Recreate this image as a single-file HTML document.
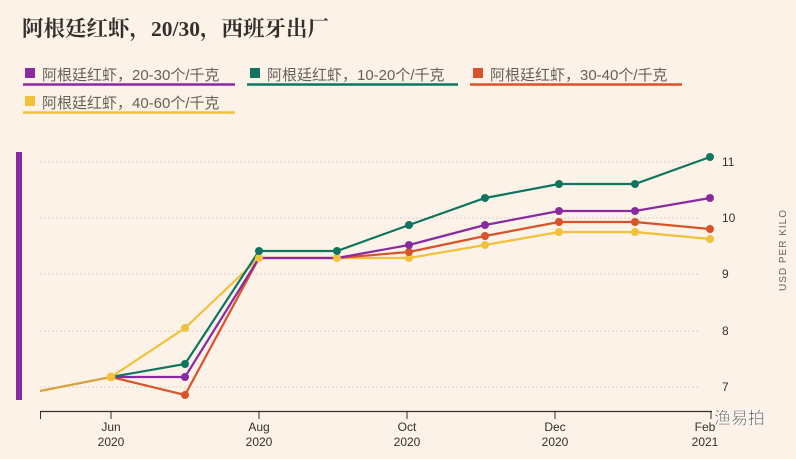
<!DOCTYPE html><html><head><meta charset="utf-8"><style>
body{margin:0;background:#fcf2e8;width:796px;height:454px;overflow:hidden;font-family:"Liberation Sans","Noto Sans CJK SC",sans-serif}
</style></head><body>
<svg width="796" height="454" xmlns="http://www.w3.org/2000/svg">
<rect width="796" height="454" fill="#fcf2e8"/>
<text x="22" y="36" font-family="Liberation Serif,Noto Serif CJK SC,serif" font-weight="bold" font-size="21.5" fill="#33302e">阿根廷红虾，20/30，西班牙出厂</text>
<g font-size="15" fill="#66605c">
<rect x="25" y="68" width="10" height="10" fill="#8a2aa0"/><text x="42" y="80">阿根廷红虾，20-30个/千克</text><line x1="23" y1="84.5" x2="235" y2="84.5" stroke="#8a2aa0" stroke-width="2.5"/>
<rect x="250" y="68" width="10" height="10" fill="#0d7560"/><text x="267" y="80">阿根廷红虾，10-20个/千克</text><line x1="247" y1="84.5" x2="458" y2="84.5" stroke="#0d7560" stroke-width="2.5"/>
<rect x="473" y="68" width="10" height="10" fill="#d9532a"/><text x="490" y="80">阿根廷红虾，30-40个/千克</text><line x1="470" y1="84.5" x2="682" y2="84.5" stroke="#d9532a" stroke-width="2.5"/>
<rect x="25" y="96" width="10" height="10" fill="#f2c13a"/><text x="42" y="108">阿根廷红虾，40-60个/千克</text><line x1="23" y1="112.5" x2="235" y2="112.5" stroke="#f2c13a" stroke-width="2.5"/>
</g>
<rect x="16" y="152" width="6" height="248" fill="#8a2aa0"/>
<g stroke="#d8d0c8" stroke-dasharray="2,2" stroke-width="1">
<line x1="40" y1="162" x2="700" y2="162"/><line x1="40" y1="218" x2="700" y2="218"/><line x1="40" y1="274" x2="700" y2="274"/><line x1="40" y1="331" x2="700" y2="331"/><line x1="40" y1="387" x2="700" y2="387"/>
</g>
<g font-size="12" fill="#33302e">
<text x="722" y="166">11</text><text x="722" y="222">10</text><text x="722" y="278">9</text><text x="722" y="335">8</text><text x="722" y="391">7</text>
<text transform="translate(786,250) rotate(-90)" text-anchor="middle" font-size="10" letter-spacing="1" fill="#66605c">USD PER KILO</text>
</g>
<line x1="40" y1="411.5" x2="712" y2="411.5" stroke="#33302e" stroke-width="1.2"/>
<g stroke="#33302e"><line x1="40.5" y1="411" x2="40.5" y2="419"/><line x1="111" y1="411" x2="111" y2="419"/><line x1="259" y1="411" x2="259" y2="419"/><line x1="407" y1="411" x2="407" y2="419"/><line x1="555" y1="411" x2="555" y2="419"/><line x1="711" y1="411" x2="711" y2="419"/></g>
<g font-size="12" fill="#33302e" text-anchor="middle">
<text x="111" y="431">Jun</text><text x="111" y="446">2020</text>
<text x="259" y="431">Aug</text><text x="259" y="446">2020</text>
<text x="407" y="431">Oct</text><text x="407" y="446">2020</text>
<text x="555" y="431">Dec</text><text x="555" y="446">2020</text>
<text x="705" y="431">Feb</text><text x="705" y="446">2021</text>
</g>
<g fill="none" stroke-width="2.2">
<polyline stroke="#d9a040" points="40,391 111,377"/>
<polyline stroke="#f2c13a" points="111,377 185,328 259,258 337,258 409,258 485,245 559,232 635,232 710,239"/>
<polyline stroke="#d9532a" points="111,377 185,395 259,258 337,258 409,252 485,236 559,222 635,222 710,229"/>
<polyline stroke="#8a2aa0" points="111,377 185,377 259,258 337,258 409,245 485,225 559,211 635,211 710,198"/>
<polyline stroke="#0d7560" points="111,377 185,364 259,251 337,251 409,225 485,198 559,184 635,184 710,157"/>
</g>
<g fill="#f2c13a"><circle cx="185" cy="328" r="4"/><circle cx="259" cy="258" r="4"/><circle cx="337" cy="258" r="4"/><circle cx="409" cy="258" r="4"/><circle cx="485" cy="245" r="4"/><circle cx="559" cy="232" r="4"/><circle cx="635" cy="232" r="4"/><circle cx="710" cy="239" r="4"/></g>
<g fill="#d9532a"><circle cx="185" cy="395" r="4"/><circle cx="409" cy="252" r="4"/><circle cx="485" cy="236" r="4"/><circle cx="559" cy="222" r="4"/><circle cx="635" cy="222" r="4"/><circle cx="710" cy="229" r="4"/></g>
<g fill="#8a2aa0"><circle cx="185" cy="377" r="4"/><circle cx="409" cy="245" r="4"/><circle cx="485" cy="225" r="4"/><circle cx="559" cy="211" r="4"/><circle cx="635" cy="211" r="4"/><circle cx="710" cy="198" r="4"/></g>
<g fill="#0d7560"><circle cx="185" cy="364" r="4"/><circle cx="259" cy="251" r="4"/><circle cx="337" cy="251" r="4"/><circle cx="409" cy="225" r="4"/><circle cx="485" cy="198" r="4"/><circle cx="559" cy="184" r="4"/><circle cx="635" cy="184" r="4"/><circle cx="710" cy="157" r="4"/></g>
<circle cx="111" cy="377" r="4.5" fill="#f2c13a"/>
<text x="714" y="424" font-size="17" fill="#444" stroke="#fff" stroke-width="0.6">渔易拍</text>
</svg></body></html>
